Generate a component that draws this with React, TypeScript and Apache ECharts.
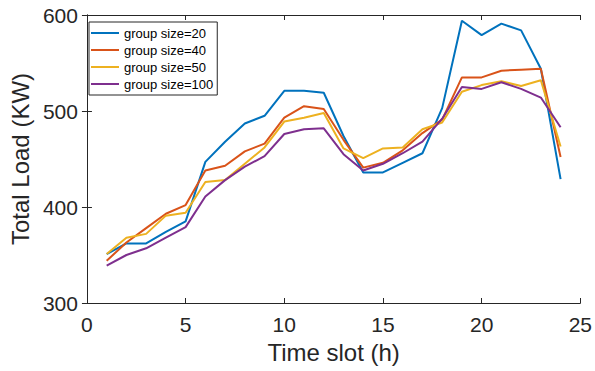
import React, { useEffect, useRef } from "react";
import * as echarts from "echarts";

const hours = [1, 2, 3, 4, 5, 6, 7, 8, 9, 10, 11, 12, 13, 14, 15, 16, 17, 18, 19, 20, 21, 22, 23, 24];
const seriesNames = ["group size=20", "group size=40", "group size=50", "group size=100"];
const size20 = [351, 362, 362, 374, 385, 447, 468, 487, 495, 521, 521, 519, 474, 436, 436, 446, 456, 503, 594, 579, 591, 584, 544, 429];
const size40 = [344, 363, 378, 393, 402, 438, 443, 458, 466, 493, 505, 502, 470, 441, 446, 459, 477, 491, 535, 535, 542, 543, 544, 452];
const size50 = [351, 368, 372, 391, 394, 426, 428, 445, 462, 489, 493, 498, 461, 451, 461, 462, 481, 488, 520, 527, 531, 526, 532, 463];
const size100 = [339, 350, 357, 368, 379, 411, 428, 442, 453, 476, 481, 482, 455, 438, 445, 456, 468, 492, 525, 523, 530, 523, 514, 483];
const xTicks = [0, 5, 10, 15, 20, 25];
const yTicks = [300, 400, 500, 600];
const colors = ["#0072BD", "#D95319", "#EDB120", "#7E2F8E"];

const FONT = "Liberation Sans, Arial, Helvetica, sans-serif";
const TXT = "#262626";

export default function App() {
  const ref = useRef<HTMLDivElement>(null);
  useEffect(() => {
    if (!ref.current) return;
    const chart = echarts.init(ref.current, undefined, { renderer: "svg" });
    const all = [size20, size40, size50, size100];
    const axisLineStyle = { color: TXT, width: 1 };
    chart.setOption({
      animation: false,
      backgroundColor: "#ffffff",
      textStyle: { fontFamily: FONT },
      grid: { left: 81, right: 14, top: 15, bottom: 68 },
      legend: {
        orient: "vertical",
        left: 89,
        top: 22,
        padding: [4, 4, 4, 2],
        icon: "rect",
        itemWidth: 28,
        itemHeight: 2,
        itemGap: 3,
        borderColor: TXT,
        borderWidth: 1,
        backgroundColor: "#ffffff",
        textStyle: { fontFamily: FONT, fontSize: 13, color: "#000", lineHeight: 14 },
        data: seriesNames,
      },
      xAxis: [
        {
          type: "value",
          min: xTicks[0],
          max: xTicks[xTicks.length - 1],
          interval: 5,
          name: "Time slot (h)",
          nameLocation: "middle",
          nameGap: 37,
          nameTextStyle: { fontFamily: FONT, fontSize: 24, color: TXT },
          axisLine: { show: true, lineStyle: axisLineStyle },
          axisTick: { show: true, inside: true, length: 5, lineStyle: axisLineStyle },
          axisLabel: { fontFamily: FONT, fontSize: 21, color: TXT, margin: 11 },
          splitLine: { show: false },
        },
        {
          type: "value",
          position: "top",
          min: xTicks[0],
          max: xTicks[xTicks.length - 1],
          interval: 5,
          axisLine: { show: true, lineStyle: axisLineStyle },
          axisTick: { show: true, inside: true, length: 5, lineStyle: axisLineStyle },
          axisLabel: { show: false },
          splitLine: { show: false },
        },
      ],
      yAxis: [
        {
          type: "value",
          min: yTicks[0],
          max: yTicks[yTicks.length - 1],
          interval: 100,
          name: "Total Load (KW)",
          nameLocation: "middle",
          nameGap: 53,
          nameTextStyle: { fontFamily: FONT, fontSize: 24, color: TXT },
          axisLine: { show: true, lineStyle: axisLineStyle },
          axisTick: { show: true, inside: true, length: 5, lineStyle: axisLineStyle },
          axisLabel: { fontFamily: FONT, fontSize: 21, color: TXT, margin: 9 },
          splitLine: { show: false },
        },
        {
          type: "value",
          position: "right",
          min: yTicks[0],
          max: yTicks[yTicks.length - 1],
          interval: 100,
          axisLine: { show: true, lineStyle: axisLineStyle },
          axisTick: { show: true, inside: true, length: 5, lineStyle: axisLineStyle },
          axisLabel: { show: false },
          splitLine: { show: false },
        },
      ],
      series: seriesNames.map((name, i) => ({
        name,
        type: "line",
        xAxisIndex: 0,
        yAxisIndex: 0,
        data: hours.map((h, j) => [h, all[i][j]]),
        showSymbol: false,
        symbol: "none",
        lineStyle: { color: colors[i], width: 2 },
        itemStyle: { color: colors[i] },
        z: 2 + i,
      })),
    });
    return () => chart.dispose();
  }, []);
  return <div ref={ref} style={{ width: 595, height: 371, position: "absolute", left: 0, top: 0 }} />;
}
